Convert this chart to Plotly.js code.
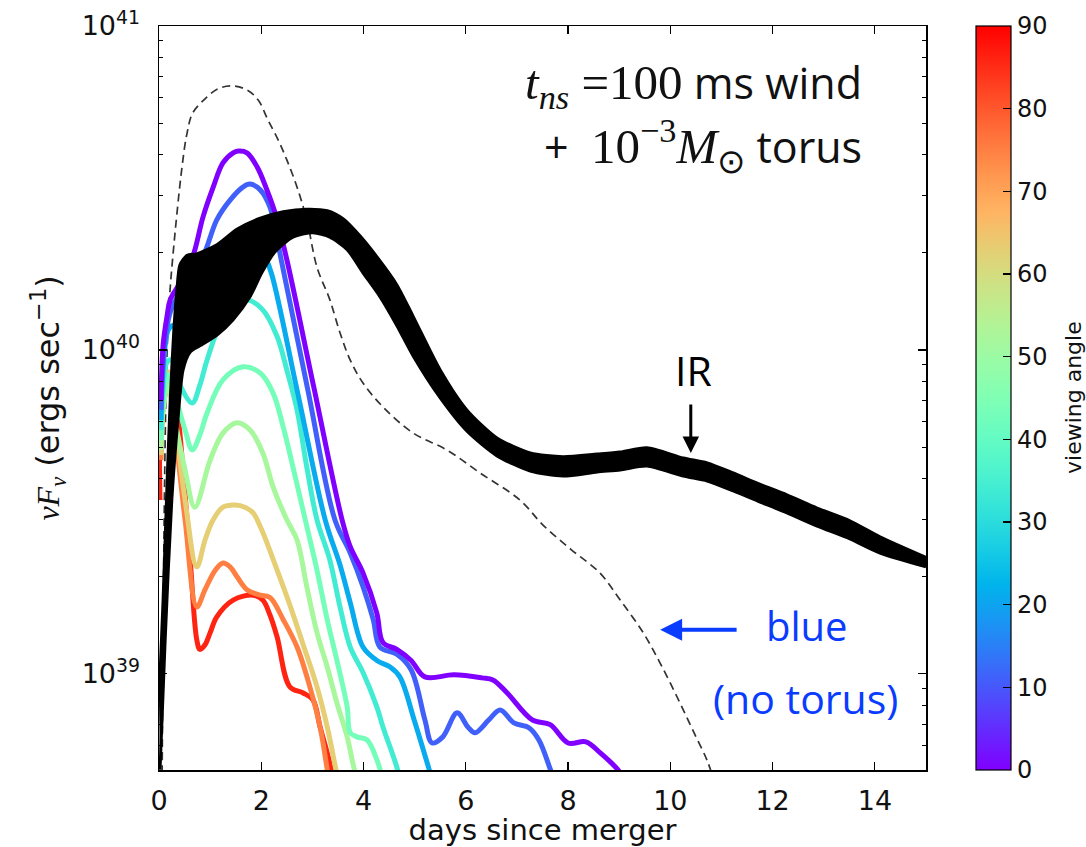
<!DOCTYPE html>
<html><head><meta charset="utf-8">
<script src="https://cdn.plot.ly/plotly-3.0.1.min.js"></script>
<style>html,body{margin:0;padding:0;background:#fff}</style>
</head><body><div id="chart" style="width:1086px;height:847px"></div>
<script>
// viewing angles (deg) of the blue-band curves
const angles = [0, 11, 21, 34, 43, 52, 63, 75, 86];

// blue (no torus) dashed curve
const tDash = [0.06, 0.08, 0.11, 0.15, 0.20, 0.27, 0.45, 0.55, 0.66, 0.94, 1.15, 1.43, 1.72, 1.94, 2.13, 2.33, 2.50, 2.70, 2.89, 3.09, 3.34, 3.54, 3.74, 3.99, 4.38, 4.97, 5.63, 6.28, 7.06, 7.51, 8.06, 8.62, 9.02, 9.47, 9.80, 10.13, 10.44, 10.72, 10.85];
const LDash = [4.5e38, 1.3e39, 4.0e39, 9.0e39, 1.4e40, 1.94e40, 3.67e40, 4.68e40, 5.39e40, 6.04e40, 6.40e40, 6.53e40, 6.35e40, 5.91e40, 5.13e40, 4.45e40, 3.86e40, 3.18e40, 2.52e40, 1.80e40, 1.43e40, 1.13e40, 9.3e39, 7.9e39, 6.67e39, 5.54e39, 4.91e39, 4.17e39, 3.44e39, 2.88e39, 2.42e39, 2.05e39, 1.69e39, 1.34e39, 1.08e39, 8.5e38, 6.7e38, 5.4e38, 4.7e38];

// IR band (black): lower and upper envelope
const tIRlo = [0.02, 0.12, 0.25, 0.37, 0.47, 0.61, 0.80, 1.13, 1.45, 1.78, 2.01, 2.27, 2.62, 3.01, 3.34, 3.68, 3.99, 4.32, 4.65, 4.97, 5.50, 6.02, 6.61, 7.26, 7.90, 8.57, 9.02, 9.54, 10.25, 10.72, 11.23, 11.70, 12.28, 12.87, 13.51, 14.10, 15.0];
const LIRlo = [5.06e38, 1.27e39, 3.44e39, 6.08e39, 8.67e39, 9.86e39, 1.03e40, 1.11e40, 1.24e40, 1.46e40, 1.73e40, 2.01e40, 2.23e40, 2.30e40, 2.23e40, 2.04e40, 1.73e40, 1.46e40, 1.19e40, 9.58e39, 7.11e39, 5.62e39, 4.71e39, 4.23e39, 4.08e39, 4.20e39, 4.26e39, 4.38e39, 4.08e39, 3.94e39, 3.67e39, 3.42e39, 3.14e39, 2.86e39, 2.61e39, 2.36e39, 2.14e39];
const tIRhi = [0.0, 0.08, 0.16, 0.22, 0.29, 0.35, 0.41, 0.55, 0.74, 1.13, 1.53, 1.98, 2.43, 2.89, 3.29, 3.60, 3.93, 4.26, 4.65, 4.97, 5.50, 6.02, 6.61, 7.26, 7.90, 8.57, 9.02, 9.54, 10.25, 10.72, 11.23, 11.70, 12.28, 12.87, 13.51, 14.10, 15.0];
const LIRhi = [8.3e38, 1.69e39, 3.97e39, 7.01e39, 1.15e40, 1.53e40, 1.83e40, 1.96e40, 1.98e40, 2.11e40, 2.36e40, 2.55e40, 2.67e40, 2.72e40, 2.69e40, 2.54e40, 2.25e40, 1.94e40, 1.59e40, 1.27e40, 8.67e39, 6.53e39, 5.35e39, 4.81e39, 4.68e39, 4.77e39, 4.84e39, 4.99e39, 4.64e39, 4.48e39, 4.17e39, 3.88e39, 3.57e39, 3.25e39, 2.97e39, 2.65e39, 2.29e39];

// blue-band curves, one per viewing angle
const t0 = [0.04, 0.08, 0.16, 0.22, 0.41, 0.66, 0.86, 1.06, 1.25, 1.45, 1.55, 1.72, 1.92, 2.11, 2.27, 2.50, 3.03, 3.58, 3.74, 3.99, 4.26, 4.38, 4.65, 4.93, 5.20, 5.77, 6.32, 6.53, 6.81, 7.30, 7.65, 8.00, 8.35, 8.63, 8.96, 9.11];
const L0 = [7.01e39, 1.035e40, 1.28e40, 1.43e40, 1.61e40, 1.94e40, 2.57e40, 3.18e40, 3.78e40, 4.06e40, 4.11e40, 4.06e40, 3.67e40, 3.12e40, 2.65e40, 1.90e40, 7.64e39, 2.99e39, 2.47e39, 2.05e39, 1.54e39, 1.25e39, 1.19e39, 1.10e39, 9.79e38, 9.93e38, 9.72e38, 9.58e38, 8.73e38, 7.21e38, 6.97e38, 6.12e38, 6.17e38, 5.70e38, 5.09e38, 4.7e38];
const t11 = [0.04, 0.08, 0.16, 0.25, 0.51, 0.86, 1.13, 1.39, 1.64, 1.78, 1.98, 2.17, 2.39, 2.91, 3.44, 3.74, 3.99, 4.19, 4.32, 4.65, 4.93, 5.20, 5.34, 5.55, 5.83, 6.04, 6.18, 6.45, 6.67, 6.94, 7.24, 7.43, 7.65, 7.75];
const L11 = [6.53e39, 9.31e39, 1.19e40, 1.35e40, 1.59e40, 1.94e40, 2.52e40, 2.90e40, 3.18e40, 3.25e40, 3.12e40, 2.76e40, 1.90e40, 7.53e39, 2.99e39, 2.36e39, 1.86e39, 1.47e39, 1.21e39, 1.15e39, 1.03e39, 7.21e38, 6.12e38, 6.39e38, 7.58e38, 6.86e38, 6.58e38, 7.21e38, 7.74e38, 7.06e38, 6.81e38, 6.25e38, 5.09e38, 4.6e38];
const t21 = [0.04, 0.08, 0.18, 0.27, 0.51, 0.80, 1.13, 1.45, 1.78, 1.94, 2.07, 2.21, 2.72, 3.25, 3.54, 3.74, 3.99, 4.26, 4.52, 4.71, 4.99, 5.28, 5.36];
const L21 = [6.08e39, 8.67e39, 1.15e40, 1.19e40, 1.11e40, 1.33e40, 1.67e40, 2.04e40, 2.26e40, 2.19e40, 1.96e40, 1.70e40, 7.27e39, 2.99e39, 2.17e39, 1.66e39, 1.21e39, 1.10e39, 1.05e39, 9.79e38, 7.21e38, 5.09e38, 4.6e38];
const t34 = [0.04, 0.08, 0.16, 0.25, 0.41, 0.65, 0.80, 0.94, 1.25, 1.49, 1.72, 2.03, 2.31, 2.50, 2.70, 2.89, 3.09, 3.34, 3.54, 3.74, 3.99, 4.26, 4.38, 4.65, 4.71];
const L34 = [5.66e39, 7.53e39, 9.18e39, 9.31e39, 7.80e39, 6.86e39, 7.80e39, 9.31e39, 1.26e40, 1.40e40, 1.43e40, 1.33e40, 1.10e40, 8.67e39, 6.53e39, 4.35e39, 2.99e39, 2.25e39, 1.61e39, 1.21e39, 1.01e39, 7.91e38, 6.86e38, 5.16e38, 4.7e38];
const t43 = [0.04, 0.08, 0.18, 0.31, 0.51, 0.65, 0.80, 0.94, 1.25, 1.64, 1.98, 2.23, 2.43, 2.62, 2.86, 3.09, 3.29, 3.48, 3.68, 3.74, 3.87, 4.07, 4.26, 4.38];
const L43 = [5.27e39, 7.01e39, 8.37e39, 7.27e39, 5.66e39, 4.91e39, 5.47e39, 6.39e39, 8.08e39, 8.87e39, 8.49e39, 7.37e39, 5.78e39, 4.35e39, 2.99e39, 2.09e39, 1.47e39, 1.10e39, 7.91e38, 6.58e38, 6.39e38, 6.25e38, 5.43e38, 4.7e38];
const t52 = [0.04, 0.08, 0.18, 0.31, 0.51, 0.70, 1.00, 1.25, 1.53, 1.78, 2.03, 2.23, 2.50, 2.70, 2.89, 3.09, 3.29, 3.48, 3.68, 3.79, 3.87];
const L52 = [4.91e39, 6.53e39, 7.80e39, 6.08e39, 4.26e39, 3.27e39, 4.57e39, 5.54e39, 5.96e39, 5.66e39, 4.81e39, 3.78e39, 2.99e39, 2.59e39, 1.86e39, 1.34e39, 1.05e39, 8.13e38, 6.39e38, 5.31e38, 4.7e38];
const t63 = [0.04, 0.08, 0.18, 0.31, 0.51, 0.74, 0.90, 1.06, 1.25, 1.49, 1.68, 1.84, 2.01, 2.31, 2.56, 2.82, 3.09, 3.29, 3.46, 3.50];
const L63 = [4.74e39, 7.01e39, 8.55e39, 6.08e39, 3.44e39, 2.14e39, 2.59e39, 2.99e39, 3.27e39, 3.32e39, 3.27e39, 3.14e39, 2.78e39, 2.09e39, 1.63e39, 1.23e39, 9.12e38, 6.86e38, 5.06e38, 4.7e38];
const t75 = [0.04, 0.08, 0.18, 0.31, 0.51, 0.74, 0.90, 1.10, 1.25, 1.39, 1.53, 1.72, 1.98, 2.17, 2.43, 2.70, 2.95, 3.15, 3.29, 3.32];
const L75 = [4.57e39, 6.53e39, 7.96e39, 5.66e39, 2.99e39, 1.61e39, 1.82e39, 2.09e39, 2.20e39, 2.14e39, 1.99e39, 1.82e39, 1.75e39, 1.72e39, 1.47e39, 1.21e39, 9.12e38, 6.86e38, 5.06e38, 4.7e38];
const t86 = [0.02, 0.08, 0.22, 0.35, 0.47, 0.61, 0.74, 0.80, 0.90, 1.00, 1.13, 1.45, 1.84, 2.03, 2.17, 2.31, 2.56, 2.82, 3.01, 3.15, 3.29, 3.38, 3.42];
const L86 = [3.44e39, 7.01e39, 7.64e39, 6.53e39, 4.26e39, 2.25e39, 1.27e39, 1.19e39, 1.23e39, 1.34e39, 1.50e39, 1.69e39, 1.75e39, 1.69e39, 1.52e39, 1.30e39, 9.12e38, 8.73e38, 8.32e38, 6.86e38, 5.70e38, 4.99e38, 4.6e38];

// ticks
const xTicks = [0, 2, 4, 6, 8, 10, 12, 14];
const yTicks = [1e39, 1e40, 1e41];
const yTickText = ['10<sup>39</sup>', '10<sup>40</sup>', '10<sup>41</sup>'];
const yMinor = [6e38, 7e38, 8e38, 9e38, 2e39, 3e39, 4e39, 5e39, 6e39, 7e39, 8e39, 9e39, 2e40, 3e40, 4e40, 5e40, 6e40, 7e40, 8e40, 9e40];
const cbTicks = [0, 10, 20, 30, 40, 50, 60, 70, 80, 90];

const curveT = [t0, t11, t21, t34, t43, t52, t63, t75, t86];
const curveL = [L0, L11, L21, L34, L43, L52, L63, L75, L86];

function rainbow(f) {
  const r = Math.min(1, Math.abs(2 * f - 0.5));
  const g = Math.sin(Math.PI * f);
  const b = Math.cos(Math.PI * f / 2);
  return 'rgb(' + Math.round(255 * r) + ',' + Math.round(255 * g) + ',' + Math.round(255 * b) + ')';
}
const cs = [];
for (let i = 0; i <= 20; i++) cs.push([i / 20, rainbow(i / 20)]);

const traces = [];
traces.push({x: tDash, y: LDash, mode: 'lines', line: {color: '#333', width: 1.7, dash: '8px,5px', shape: 'spline', smoothing: 1}, hoverinfo: 'skip', showlegend: false});
for (let i = angles.length - 1; i >= 0; i--) {
  traces.push({x: curveT[i], y: curveL[i], mode: 'lines',
    line: {color: rainbow(angles[i] / 90), width: 5, shape: 'spline', smoothing: 1},
    hoverinfo: 'skip', showlegend: false});
}
traces.push({x: tIRlo, y: LIRlo, mode: 'lines', line: {color: '#000', width: 3, shape: 'spline', smoothing: 0.7}, hoverinfo: 'skip', showlegend: false});
traces.push({x: tIRhi, y: LIRhi, mode: 'lines', fill: 'tonexty', fillcolor: '#000', line: {color: '#000', width: 3, shape: 'spline', smoothing: 0.7}, hoverinfo: 'skip', showlegend: false});
// colour bar carrier
traces.push({x: [-1, -1], y: [1e40, 1e40], mode: 'markers', hoverinfo: 'skip', showlegend: false,
  marker: {color: [0, 90], cmin: 0, cmax: 90, colorscale: cs, showscale: true, opacity: 0, size: 1,
    colorbar: {x: (976 - 159) / 767, xref: 'paper', xanchor: 'left', xpad: 0,
      y: 0.5, yanchor: 'middle', ypad: 0, len: 744, lenmode: 'pixels',
      thickness: 35, thicknessmode: 'pixels', outlinewidth: 1.2, outlinecolor: '#000',
      tickmode: 'array', tickvals: cbTicks, ticks: 'inside', ticklen: 8, tickcolor: '#000', tickwidth: 1.2,
      tickfont: {family: 'DejaVu Sans', size: 24, color: '#111'}}}});

const mathFont = "font-family:'Liberation Serif';font-size:49px";
const layout = {
  width: 1086, height: 847,
  margin: {l: 159, r: 160, t: 26, b: 77},
  paper_bgcolor: '#fff', plot_bgcolor: '#fff',
  showlegend: false,
  xaxis: {range: [0, 15], tickmode: 'array', tickvals: xTicks, ticks: 'inside', ticklen: 8, tickwidth: 1.2, tickcolor: '#000',
    showline: true, linecolor: '#000', linewidth: 1.5, mirror: 'ticks', showgrid: false, zeroline: false,
    tickfont: {family: 'DejaVu Sans', size: 27, color: '#111'}, ticklabelstandoff: 6,
    title: {text: 'days since merger', font: {family: 'DejaVu Sans', size: 29, color: '#111'}, standoff: 2}},
  yaxis: {type: 'log', range: [Math.log10(5.05e38), 41], tickmode: 'array', tickvals: yTicks, ticktext: yTickText,
    ticks: 'inside', ticklen: 8, tickwidth: 1.2, tickcolor: '#000',
    minor: {tickmode: 'array', tickvals: yMinor, ticks: 'inside', ticklen: 4, tickcolor: '#000', tickwidth: 1},
    showline: true, linecolor: '#000', linewidth: 1.5, mirror: 'ticks', showgrid: false, zeroline: false,
    tickfont: {family: 'DejaVu Sans', size: 27, color: '#111'}, ticklabelstandoff: 12,
    title: {text: '<span style="font-family:\'Liberation Serif\'"><i>νF</i><sub><i>ν</i></sub></span> (ergs sec<sup>−1</sup>)', font: {family: 'DejaVu Sans', size: 32, color: '#111'}, standoff: 12}},
  annotations: [
    {x: 13.79, y: 40.818, xref: 'x', yref: 'y', xanchor: 'right', yanchor: 'middle', showarrow: false,
     text: '<span style="' + mathFont + '"><i>t</i><sub><i>ns</i></sub> =100</span> ms wind', font: {family: 'Open Sans', size: 43, color: '#111'}},
    {x: 13.79, y: 40.630, xref: 'x', yref: 'y', xanchor: 'right', yanchor: 'middle', showarrow: false,
     text: '+  <span style="' + mathFont + '">10<sup>−3</sup><i>M</i><sub>⊙</sub></span> torus', font: {family: 'Open Sans', size: 43, color: '#111'}},
    {x: 10.46, y: 39.938, xref: 'x', yref: 'y', xanchor: 'center', yanchor: 'middle', showarrow: false,
     text: 'IR', font: {family: 'Open Sans', size: 41, color: '#000'}},
    {x: 10.40, y: 39.682, xref: 'x', yref: 'y', text: '', showarrow: true, ax: 0, ay: -50,
     arrowhead: 2, arrowsize: 1.1, arrowwidth: 3, arrowcolor: '#000', standoff: 0},
    {x: 12.67, y: 39.148, xref: 'x', yref: 'y', xanchor: 'center', yanchor: 'middle', showarrow: false,
     text: 'blue', font: {family: 'Open Sans', size: 40, color: '#0a3cff'}},
    {x: 12.65, y: 38.925, xref: 'x', yref: 'y', xanchor: 'center', yanchor: 'middle', showarrow: false,
     text: '(no torus)', font: {family: 'Open Sans', size: 41, color: '#0a3cff'}},
    {x: 9.80, y: 39.136, xref: 'x', yref: 'y', text: '', showarrow: true, ax: 78, ay: 0,
     arrowhead: 2, arrowsize: 1.1, arrowwidth: 4, arrowcolor: '#0a3cff', standoff: 0},
    {x: (1073 - 159) / 767, y: 0.5, xref: 'paper', yref: 'paper', xanchor: 'center', yanchor: 'middle', showarrow: false,
     textangle: -90, text: 'viewing angle', font: {family: 'DejaVu Sans', size: 22, color: '#111'}}
  ]
};
Plotly.newPlot('chart', traces, layout, {displayModeBar: false, staticPlot: true});
</script>
</body></html>
